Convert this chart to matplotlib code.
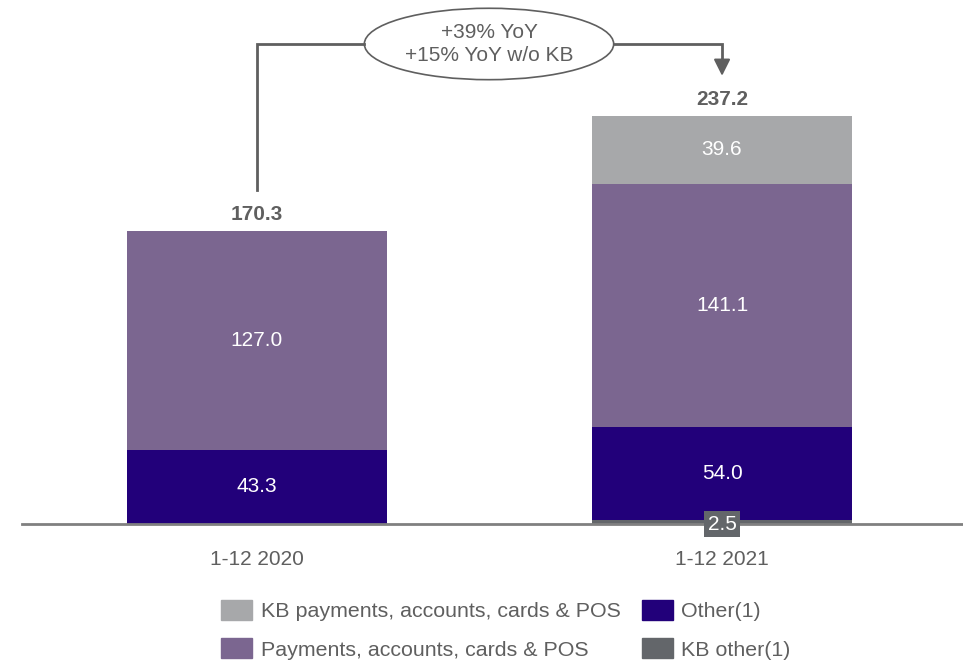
import matplotlib
matplotlib.use("Agg")
import matplotlib.pyplot as plt
from matplotlib.patches import Ellipse, Patch
import numpy as np

plt.rcParams['font.family'] = ['Liberation Sans', 'DejaVu Sans']

periods = ["1-12 2020", "1-12 2021"]
kb_other = [0.0, 2.5]
other = [43.3, 54.0]
payments = [127.0, 141.1]
kb_payments = [0.0, 39.6]
totals = [170.3, 237.2]
growth_text = "+39% YoY\n+15% YoY w/o KB"

c_kb_pay = "#A7A8AA"
c_pay = "#7B6690"
c_other = "#22007A"
c_kb_other = "#63666A"
c_text = "#5F5F5F"
fs = 15

fig = plt.figure(figsize=(9.63, 6.63), dpi=100)
ax = fig.add_axes([22 / 963, (663 - 524) / 663, 941 / 963, 524 / 663])

x = np.arange(len(periods))
w = 0.559
b0 = np.array(kb_other)
b1 = b0 + np.array(other)
b2 = b1 + np.array(payments)

ax.bar(x, kb_other, w, color=c_kb_other, label="KB other(1)")
ax.bar(x, other, w, bottom=b0, color=c_other, label="Other(1)")
ax.bar(x, payments, w, bottom=b1, color=c_pay, label="Payments, accounts, cards & POS")
ax.bar(x, kb_payments, w, bottom=b2, color=c_kb_pay, label="KB payments, accounts, cards & POS")

for i in range(len(x)):
    ax.text(x[i], b0[i] + other[i] / 2, f"{other[i]:.1f}", ha="center", va="center",
            color="white", fontsize=fs)
    ax.text(x[i], b1[i] + payments[i] / 2, f"{payments[i]:.1f}", ha="center", va="center",
            color="white", fontsize=fs)
    if kb_payments[i] > 0:
        ax.text(x[i], b2[i] + kb_payments[i] / 2, f"{kb_payments[i]:.1f}", ha="center",
                va="center", color="white", fontsize=fs)
    if kb_other[i] > 0:
        ax.text(x[i], 0, f"{kb_other[i]:.1f}", ha="center", va="center", color="white",
                fontsize=fs, clip_on=False, zorder=5,
                bbox=dict(boxstyle="square,pad=0.15", fc=c_kb_other, ec="none"))
    ax.text(x[i], totals[i] + 9.5, f"{totals[i]:.1f}", ha="center", va="center",
            color=c_text, fontsize=fs, fontweight="bold")

ax.set_xlim(-0.505, 1.518)
ax.set_ylim(0, 524 / 1.7205)

# growth bracket between the two totals
yb = 279
ex, ew, eh = 0.499, 0.536, 41.5
ax.plot([0, 0, ex - ew / 2], [totals[0] + 24, yb, yb], color=c_text, lw=2,
        solid_joinstyle="miter", clip_on=False)
ax.plot([ex + ew / 2, 1, 1], [yb, yb, 268], color=c_text, lw=2,
        solid_joinstyle="miter", clip_on=False)
ax.annotate("", xy=(1, 260.5), xytext=(1, 270),
            arrowprops=dict(arrowstyle="-|>,head_width=0.25,head_length=0.5",
                            mutation_scale=20, color=c_text, lw=1.5, shrinkA=0, shrinkB=0),
            annotation_clip=False)
ax.add_patch(Ellipse((ex, yb), ew, eh, fc="white", ec=c_text, lw=1.2, clip_on=False))
ax.text(ex, yb, growth_text, ha="center", va="center", color=c_text, fontsize=fs,
        linespacing=1.3)

for s in ["top", "left", "right"]:
    ax.spines[s].set_visible(False)
ax.spines["bottom"].set_color("#808080")
ax.spines["bottom"].set_linewidth(2)
ax.set_yticks([])
ax.set_xticks(x)
ax.set_xticklabels(periods, color=c_text, fontsize=fs)
ax.tick_params(axis="x", length=0, pad=19)

handles = [Patch(color=c_kb_pay), Patch(color=c_pay), Patch(color=c_other), Patch(color=c_kb_other)]
labels = ["KB payments, accounts, cards & POS", "Payments, accounts, cards & POS",
          "Other(1)", "KB other(1)"]
leg = fig.legend(handles, labels, ncol=2, loc="upper left",
                 bbox_to_anchor=(221 / 963, 1 - 600 / 663),
                 frameon=False, fontsize=15.4, borderpad=0, borderaxespad=0,
                 handlelength=1.45, handleheight=1.05, handletextpad=0.4,
                 columnspacing=1.0, labelspacing=0.8)
for t in leg.get_texts():
    t.set_color(c_text)

fig.savefig("out.png", dpi=100)
